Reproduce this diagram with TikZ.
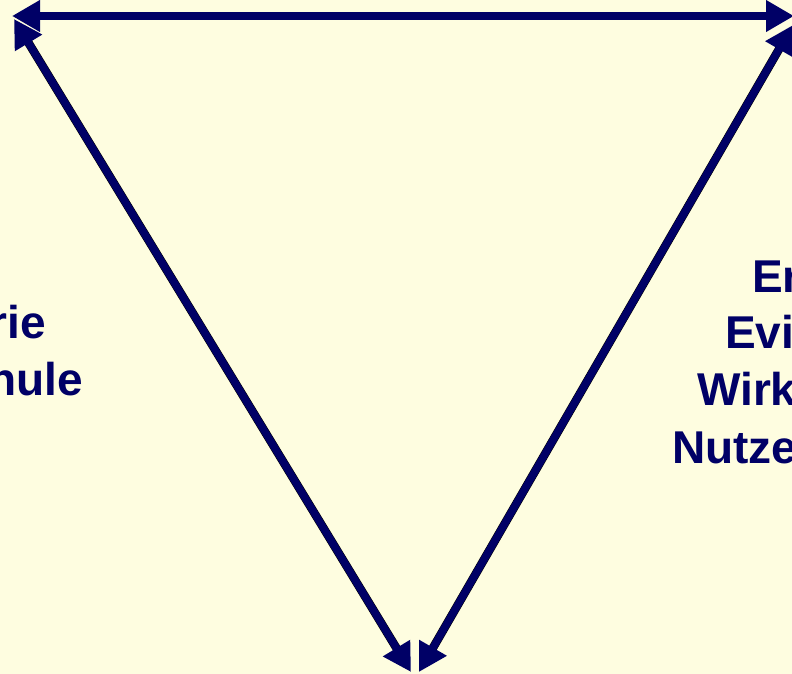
\documentclass[tikz,border=0pt]{standalone}
\usepackage{fontspec}
\setmainfont{Liberation Sans}
\usetikzlibrary{arrows.meta}
\definecolor{bg}{HTML}{FEFDE0}
\definecolor{navy}{HTML}{000066}
\begin{document}
\begin{tikzpicture}[x=1pt,y=-1pt,
  edge/.style={navy, line width=7.5pt, {Triangle[length=28pt,width=30pt]}-{Triangle[length=28pt,width=30pt]}},
  shade/.style={black, line width=8.5pt, shorten <=22pt, shorten >=22pt},
  lbl/.style={text=navy, font=\bfseries\fontsize{46}{57}\selectfont, inner sep=0pt}]
\useasboundingbox (0,0) rectangle (792,674);
\clip (0,0) rectangle (792,674);
\fill[bg] (0,0) rectangle (792,674);
\coordinate (tl) at (12,16);
\coordinate (tr) at (794,16);
\coordinate (tlA) at (14,19);
\coordinate (trA) at (793,25);
\coordinate (bl) at (411,672);
\coordinate (br) at (419,672);
\draw[shade] (tlA) -- (bl);
\draw[shade] (trA) -- (br);
\draw[edge] (tl) -- (tr);
\draw[edge] (tlA) -- (bl);
\draw[edge] (trA) -- (br);
\node[lbl, anchor=base east] (l1) at (46,338) {rie};
\node[lbl, anchor=base east] (l2) at (83,395) {nule};
\node[lbl, anchor=base west] (r1) at (752,292) {Er};
\node[lbl, anchor=base west] (r2) at (725,348) {Evi};
\node[lbl, anchor=base west] (r3) at (697,405) {Wirk};
\node[lbl, anchor=base west] (r4) at (672,463) {Nutze};
\end{tikzpicture}
\end{document}
